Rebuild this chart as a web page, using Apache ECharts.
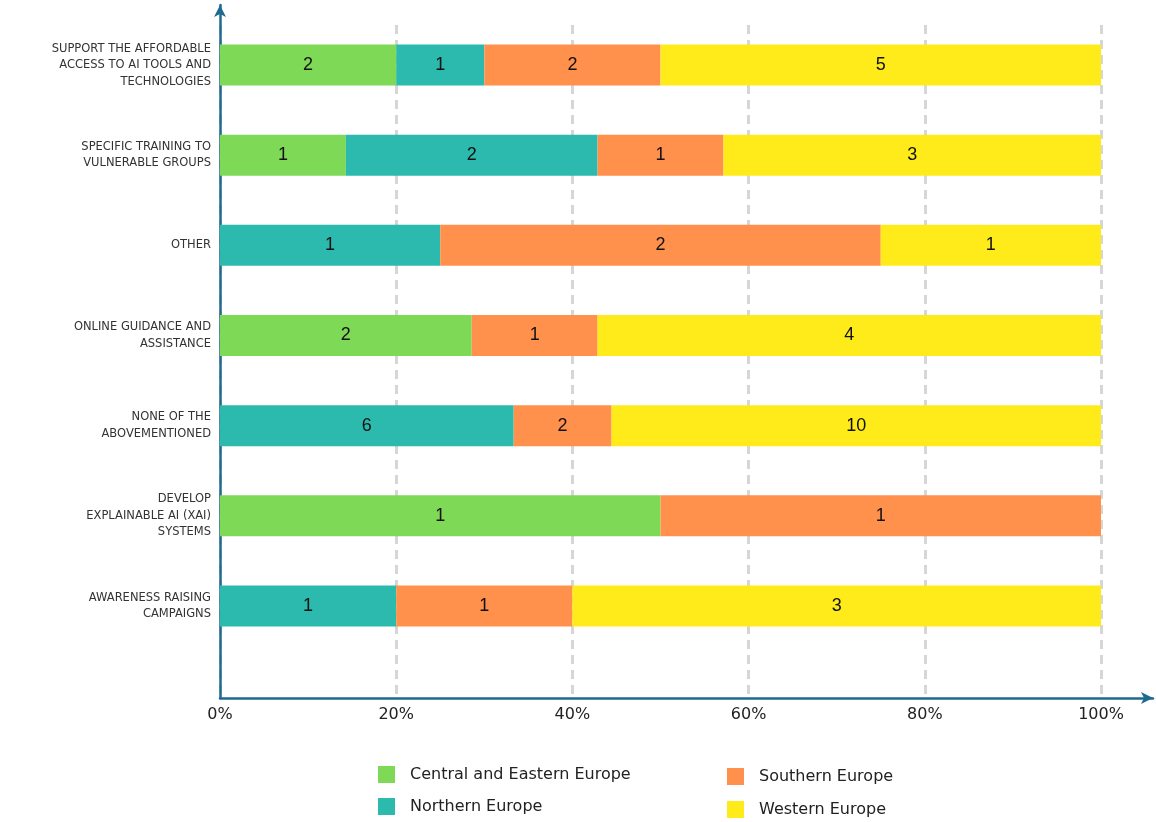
<!DOCTYPE html>
<html>
<head>
<meta charset="utf-8">
<script src="https://cdn.jsdelivr.net/npm/echarts@6/dist/echarts.min.js"></script>
<style>
  html, body { margin: 0; padding: 0; background: #ffffff; }
  #chart { width: 1156px; height: 822px; }
</style>
</head>
<body>
<div id="chart"></div>
<script>
// Measures, top to bottom
const categories = [
  'SUPPORT THE AFFORDABLE\nACCESS TO AI TOOLS AND\nTECHNOLOGIES',
  'SPECIFIC TRAINING TO\nVULNERABLE GROUPS',
  'OTHER',
  'ONLINE GUIDANCE AND\nASSISTANCE',
  'NONE OF THE\nABOVEMENTIONED',
  'DEVELOP\nEXPLAINABLE AI (XAI)\nSYSTEMS',
  'AWARENESS RAISING\nCAMPAIGNS'
];

// Number of responses per region
const regionNames = ['Central and Eastern Europe', 'Northern Europe', 'Southern Europe', 'Western Europe'];
const centralEastern = [2, 1, 0, 2, 0, 1, 0];
const northern       = [1, 2, 1, 0, 6, 0, 1];
const southern       = [2, 1, 2, 1, 2, 1, 1];
const western        = [5, 3, 1, 4, 10, 0, 3];

const xTicks = [0, 20, 40, 60, 80, 100];

const regionColors = ['#7ED957', '#2BBAAD', '#FF914D', '#FFEB1A'];
const axisBlue = '#1F6B8E';

const counts = [centralEastern, northern, southern, western];
const totals = categories.map((_, i) => counts.reduce((s, arr) => s + arr[i], 0));

const series = counts.map((arr, k) => ({
  name: regionNames[k],
  type: 'bar',
  stack: 'share',
  xAxisIndex: 0,
  yAxisIndex: 0,
  barWidth: 41,
  itemStyle: { color: regionColors[k] },
  label: {
    show: true,
    position: 'inside',
    color: '#111',
    fontSize: 18,
    fontFamily: 'Liberation Sans',
    formatter: p => (p.data.count ? String(p.data.count) : '')
  },
  data: arr.map((c, i) => ({ value: c / totals[i] * 100, count: c }))
}));

const legendText = { fontSize: 16, color: '#222', fontFamily: 'DejaVu Sans', padding: [0, 0, 0, 10] };

const chart = echarts.init(document.getElementById('chart'), null, { renderer: 'canvas' });

chart.setOption({
  animation: false,
  backgroundColor: '#ffffff',
  legend: [
    {
      data: regionNames.slice(0, 2),
      orient: 'vertical',
      left: 378, top: 766, padding: 0,
      itemWidth: 17, itemHeight: 17, itemGap: 15,
      icon: 'rect',
      textStyle: legendText
    },
    {
      data: regionNames.slice(2, 4),
      orient: 'vertical',
      left: 727, top: 768, padding: 0,
      itemWidth: 17, itemHeight: 17, itemGap: 16,
      icon: 'rect',
      textStyle: legendText
    }
  ],
  grid: [
    // bars
    { left: 220, right: 55, top: 20, height: 631 },
    // percentage scale and dashed guides
    { left: 220, right: 55, top: 25, bottom: 124 },
    // arrowed axis lines
    { left: 220, right: 3, top: 5, bottom: 124 }
  ],
  xAxis: [
    { gridIndex: 0, type: 'value', min: 0, max: 100, show: false },
    {
      gridIndex: 1, type: 'value', min: 0, max: 100, interval: 20,
      axisLine: { show: false }, axisTick: { show: false },
      splitLine: { show: true, lineStyle: { color: '#D6D6D6', width: 3, type: [9, 6] } },
      axisLabel: {
        margin: 9, fontSize: 16, color: '#222', fontFamily: 'DejaVu Sans',
        customValues: xTicks,
        formatter: '{value}%'
      }
    },
    {
      gridIndex: 2, type: 'value', min: 0, max: 1,
      axisLine: { show: true, symbol: ['none', 'arrow'], symbolSize: [9, 12], lineStyle: { color: axisBlue, width: 2.5 } },
      axisTick: { show: false }, axisLabel: { show: false }, splitLine: { show: false }
    }
  ],
  yAxis: [
    {
      gridIndex: 0, type: 'category', data: categories, inverse: true,
      axisLine: { show: false }, axisTick: { show: false },
      axisLabel: {
        margin: 9, fontSize: 11.5, lineHeight: 16.5, color: '#333',
        fontFamily: 'DejaVu Sans', align: 'right'
      }
    },
    { gridIndex: 1, type: 'value', min: 0, max: 1, show: false },
    {
      gridIndex: 2, type: 'value', min: 0, max: 1,
      axisLine: { show: true, symbol: ['none', 'arrow'], symbolSize: [9, 12], lineStyle: { color: axisBlue, width: 2.5 } },
      axisTick: { show: false }, axisLabel: { show: false }, splitLine: { show: false }
    }
  ],
  series: series
});
</script>
</body>
</html>
